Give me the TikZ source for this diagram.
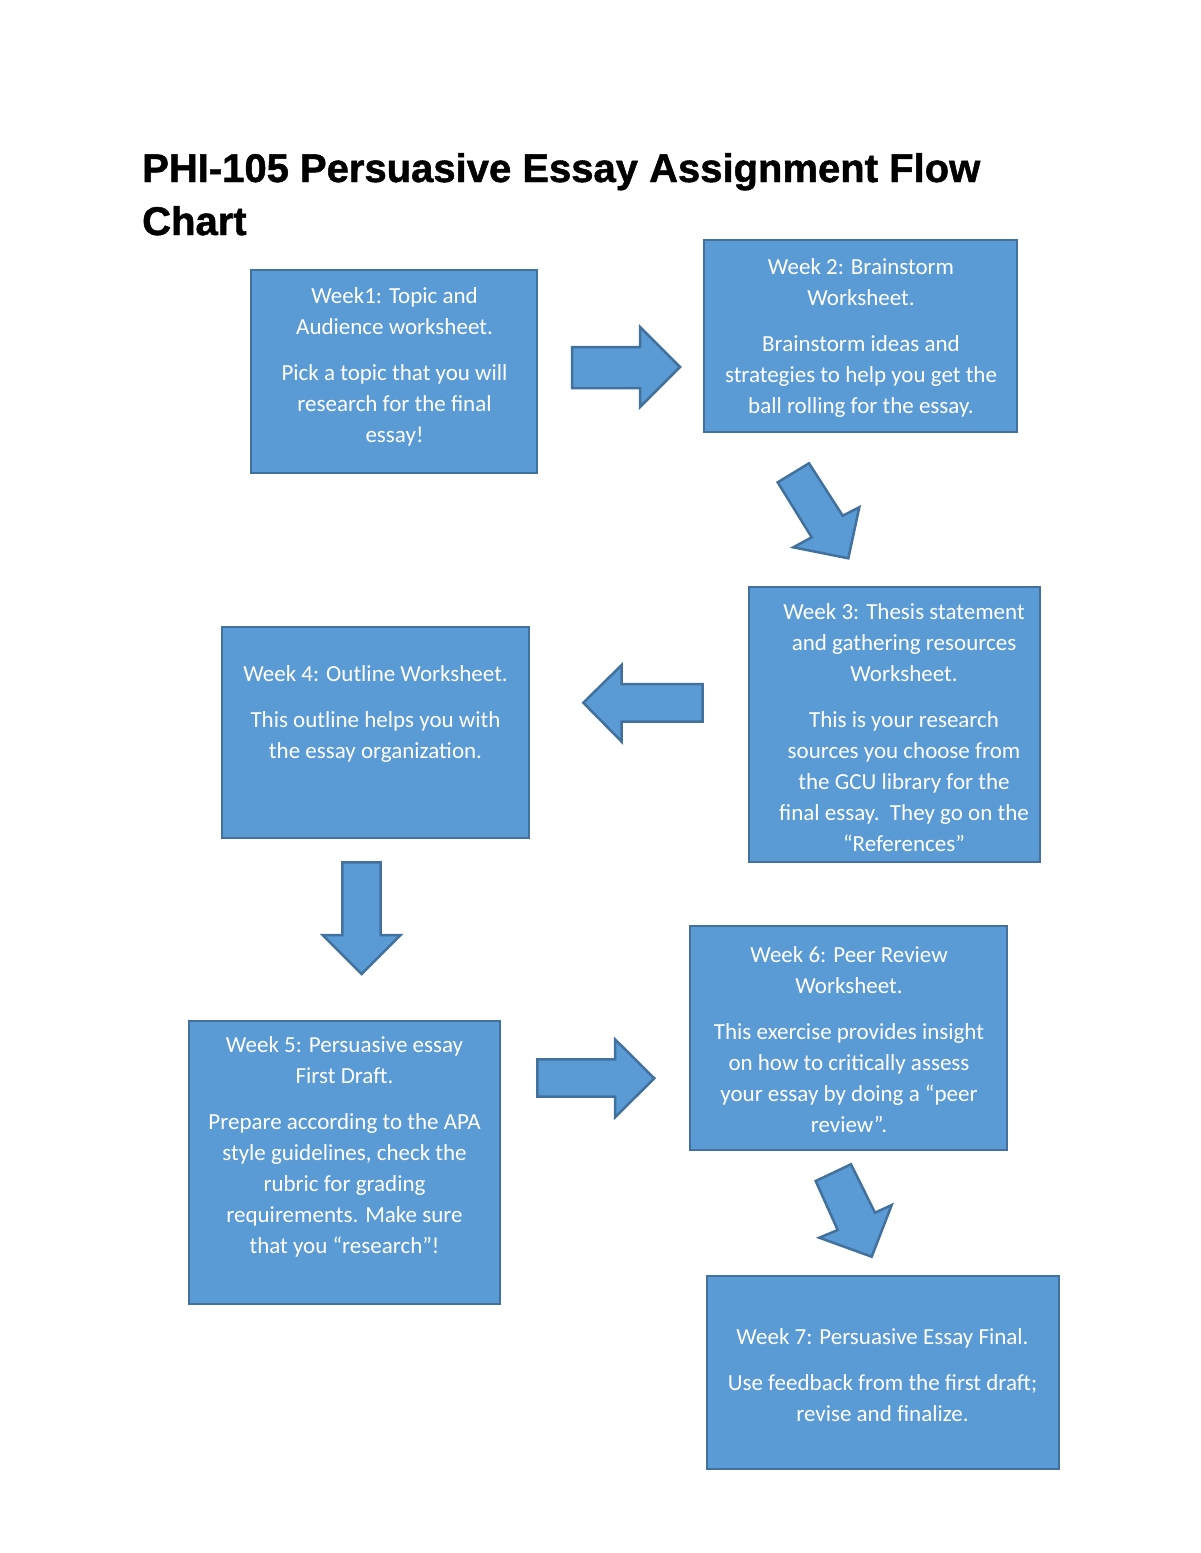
\documentclass[tikz,border=0pt]{standalone}
\usepackage{fontspec}
\setmainfont{Carlito}
\newfontfamily\titlefont[BoldFeatures={FakeBold=1.2}]{Liberation Sans}
\definecolor{boxfill}{HTML}{5B9BD5}
\definecolor{boxline}{HTML}{41719C}
\begin{document}
\begin{tikzpicture}[x=1pt,y=-1pt,
  box/.style={draw=boxline, fill=boxfill, line width=2.5pt, inner sep=0pt},
  txt/.style={text=white, align=center, font=\fontsize{23}{31}\selectfont, inner sep=0pt, anchor=north},
  ttl/.style={anchor=base west, inner sep=0pt, font=\titlefont\bfseries\fontsize{40}{53}\selectfont},
  blockarrow/.style={draw=boxline, fill=boxfill, line width=2.5pt, line join=miter}]
\useasboundingbox[fill=white] (0,0) rectangle (1200,1553);

% title
\node[ttl] (title1) at (142,182) {PHI-105 Persuasive Essay Assignment Flow};
\node[ttl] (title2) at (142,235) {Chart};

% boxes
\node[box, minimum width=286pt, minimum height=203pt] (b1) at (394,371.5) {};
\node[box, minimum width=313pt, minimum height=192pt] (b2) at (860.5,336) {};
\node[box, minimum width=291pt, minimum height=275pt] (b3) at (894.5,724.5) {};
\node[box, minimum width=307pt, minimum height=211pt] (b4) at (375.5,732.5) {};
\node[box, minimum width=311pt, minimum height=283pt] (b5) at (344.5,1162.5) {};
\node[box, minimum width=317pt, minimum height=224pt] (b6) at (848.5,1038) {};
\node[box, minimum width=352pt, minimum height=193pt] (b7) at (883,1372.5) {};

% texts
\node[txt] (t1) at (394.5,281.8) {\strut Week1: Topic and\\Audience worksheet.\\[15pt]Pick a topic that you will\\research for the final\\essay!};
\node[txt] (t2) at (861,252.8) {\strut Week 2: Brainstorm\\Worksheet.\\[15pt]Brainstorm ideas and\\strategies to help you get the\\ball rolling for the essay.};
\node[txt] (t3) at (904,597.8) {\strut Week 3: Thesis statement\\and gathering resources\\Worksheet.\\[15pt]This is your research\\sources you choose from\\the GCU library for the\\final essay.\ \ They go on the\\“References”};
\node[txt] (t4) at (375.5,659.8) {\strut Week 4: Outline Worksheet.\\[15pt]This outline helps you with\\the essay organization.};
\node[txt] (t5) at (344.5,1030.8) {\strut Week 5: Persuasive essay\\First Draft.\\[15pt]Prepare according to the APA\\style guidelines, check the\\rubric for grading\\requirements. Make sure\\that you “research”!};
\node[txt] (t6) at (849,940.8) {\strut Week 6: Peer Review\\Worksheet.\\[15pt]This exercise provides insight\\on how to critically assess\\your essay by doing a “peer\\review”.};
\node[txt] (t7) at (882.5,1322.3) {\strut Week 7: Persuasive Essay Final.\\[15pt]Use feedback from the first draft;\\revise and finalize.};

% block arrows
\draw[blockarrow] (572,347) -- (640,347) -- (640,327) -- (680,367) -- (640,407) -- (640,388) -- (572,388) -- cycle;
\draw[blockarrow] (777.7,482.3) -- (809,463.3) -- (842.7,515.7) -- (859.3,507.3) -- (848.3,558.3) -- (793.3,547.3) -- (811.7,537.3) -- cycle;
\draw[blockarrow] (702.7,684) -- (621.7,684) -- (621.7,665) -- (583.3,702.7) -- (621.7,741.7) -- (621.7,721.7) -- (702.7,721.7) -- cycle;
\draw[blockarrow] (342.3,862.3) -- (380.7,862.3) -- (380.7,935) -- (400.7,935) -- (361.7,974) -- (322.7,935) -- (342.3,935) -- cycle;
\draw[blockarrow] (537.3,1059.3) -- (615,1059.3) -- (615,1039.3) -- (654.3,1078.3) -- (615,1117.3) -- (615,1096.7) -- (537.3,1096.7) -- cycle;
\draw[blockarrow] (815.7,1181) -- (851,1164.3) -- (875,1212.7) -- (891.7,1205) -- (871.7,1256.7) -- (819.3,1237.7) -- (837.7,1230) -- cycle;
\end{tikzpicture}
\end{document}
